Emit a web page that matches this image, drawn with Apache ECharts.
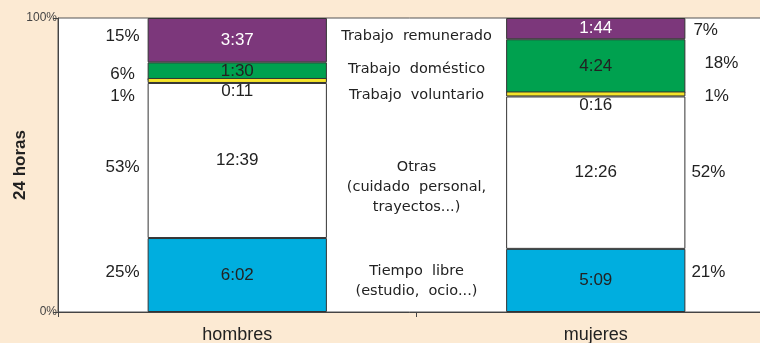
<!DOCTYPE html>
<html><head><meta charset="utf-8">
<script src="https://cdn.jsdelivr.net/npm/echarts@6/dist/echarts.min.js"></script>
<style>html,body{margin:0;padding:0;background:#FCEAD3;} #c{width:760px;height:343px;}</style>
</head><body><div id="c"></div>
<script>
// ---- data ----
const categories = ['hombres', 'mujeres'];
const segmentNames = ['Tiempo libre', 'Otras', 'Trabajo voluntario', 'Trabajo doméstico', 'Trabajo remunerado'];
const hombresTimes = ['6:02', '12:39', '0:11', '1:30', '3:37'];
const mujeresTimes = ['5:09', '12:26', '0:16', '4:24', '1:44'];
const middleLabels = ['Tiempo  libre\n(estudio,  ocio...)', 'Otras\n(cuidado  personal,\ntrayectos...)', 'Trabajo  voluntario', 'Trabajo  doméstico', 'Trabajo  remunerado'];
const yTickLabels = ['0%', '100%'];
const yAxisName = '24 horas';

// ---- derived ----
const toMin = t => { const p = t.split(':').map(Number); return p[0] * 60 + p[1]; };
const times = [hombresTimes, mujeresTimes];
const minutes = times.map(a => a.map(toMin));
const totals = minutes.map(a => a.reduce((s, v) => s + v, 0));
const shares = minutes.map((a, i) => a.map(v => v / totals[i]));
const pctText = shares.map(a => a.map(v => Math.round(v * 100) + '%'));

// ---- styles ----
const colors = ['#00AEDF', '#FFFFFF', '#F5E42A', '#00A14F', '#7C377B'];
const labelColors = ['#222', '#222', '#222', '#222', '#FFFFFF'];
const numFont = "'Liberation Sans', Arial, sans-serif";
const midFont = "'DejaVu Sans', Verdana, sans-serif";
const pctDy = [[-3, 7, 14, 3, -4], [-8, 0, 1, -3, 2]];
const pctRightDx = [6, 6, 19, 19, 8];
const midDy = [4, 21, 7, 0, 2];

function segRange(c, s) {
  let lo = 0;
  for (let i = 0; i < s; i++) lo += shares[c][i];
  return [lo, lo + shares[c][s]];
}

const barSeries = segmentNames.map((name, s) => ({
  name: name,
  type: 'bar',
  stack: 'total',
  barWidth: '50%',
  barMinHeight: s === 2 ? 5 : 0,
  data: categories.map((cat, c) => shares[c][s]),
  itemStyle: { color: colors[s], borderColor: '#333', borderWidth: 1 },
  label: {
    show: true,
    position: s === 2 ? 'bottom' : 'inside',
    distance: 0,
    color: labelColors[s],
    fontFamily: numFont,
    fontSize: 17,
    formatter: p => times[p.dataIndex][s]
  },
  silent: true,
  z: s === 2 ? 3 : 2
}));

const pctData = [];
categories.forEach((cat, c) => segmentNames.forEach((n, s) => pctData.push([c, 0, s])));

const pctSeries = {
  type: 'custom',
  data: pctData,
  encode: { x: 0, y: 1 },
  z: 5,
  silent: true,
  renderItem: function (params, api) {
    const c = api.value(0), s = api.value(2);
    const r = segRange(c, s);
    const pLo = api.coord([c, r[0]]), pHi = api.coord([c, r[1]]);
    const half = api.size([1, 0])[0] * 0.25;
    const y = (pLo[1] + pHi[1]) / 2 + pctDy[c][s];
    const x = c === 0 ? pLo[0] - half - 25 : pLo[0] + half + pctRightDx[s];
    return {
      type: 'text', x: x, y: y,
      style: { text: pctText[c][s], fill: '#222', fontFamily: numFont, fontSize: 17,
               align: c === 0 ? 'center' : 'left', verticalAlign: 'middle' }
    };
  }
};

const midSeries = {
  type: 'custom',
  data: segmentNames.map((n, s) => [0, 0, s]),
  encode: { x: 0, y: 1 },
  z: 5,
  silent: true,
  renderItem: function (params, api) {
    const s = api.value(2);
    let ys = [], xs = [];
    for (let c = 0; c < categories.length; c++) {
      const r = segRange(c, s);
      const a = api.coord([c, r[0]]), b = api.coord([c, r[1]]);
      ys.push((a[1] + b[1]) / 2); xs.push(a[0]);
    }
    const x = (xs[0] + xs[1]) / 2;
    const y = (ys[0] + ys[1]) / 2 + midDy[s];
    return {
      type: 'text', x: x, y: y,
      style: { text: middleLabels[s], fill: '#222', fontFamily: midFont, fontSize: 14.5,
               lineHeight: 20, align: 'center', verticalAlign: 'middle' }
    };
  }
};

const chart = echarts.init(document.getElementById('c'), null, { renderer: 'canvas' });
chart.setOption({
  animation: false,
  backgroundColor: '#FCEAD3',
  grid: { left: 58, right: -15, top: 18, bottom: 31, show: true, backgroundColor: '#FFFFFF',
          borderColor: '#555', borderWidth: 1, containLabel: false, outerBoundsMode: 'none' },
  xAxis: {
    type: 'category',
    data: categories,
    axisLine: { lineStyle: { color: '#444', width: 1 } },
    axisTick: { show: true, length: 5, lineStyle: { color: '#444' } },
    axisLabel: { color: '#222', fontFamily: numFont, fontSize: 18, margin: 14 }
  },
  yAxis: {
    type: 'value',
    min: 0, max: 1, interval: 1,
    name: yAxisName,
    nameLocation: 'middle',
    nameGap: 29,
    nameMoveOverlap: false,
    nameTextStyle: { fontFamily: numFont, fontWeight: 'bold', fontSize: 17, color: '#222' },
    axisLine: { show: true, lineStyle: { color: '#444', width: 1 } },
    axisTick: { show: true, length: 5, lineStyle: { color: '#444' } },
    splitLine: { show: false },
    axisLabel: { color: '#444', fontFamily: numFont, fontSize: 12, margin: 1,
                 formatter: v => yTickLabels[Math.round(v)] }
  },
  series: barSeries.concat([pctSeries, midSeries])
});
</script></body></html>
